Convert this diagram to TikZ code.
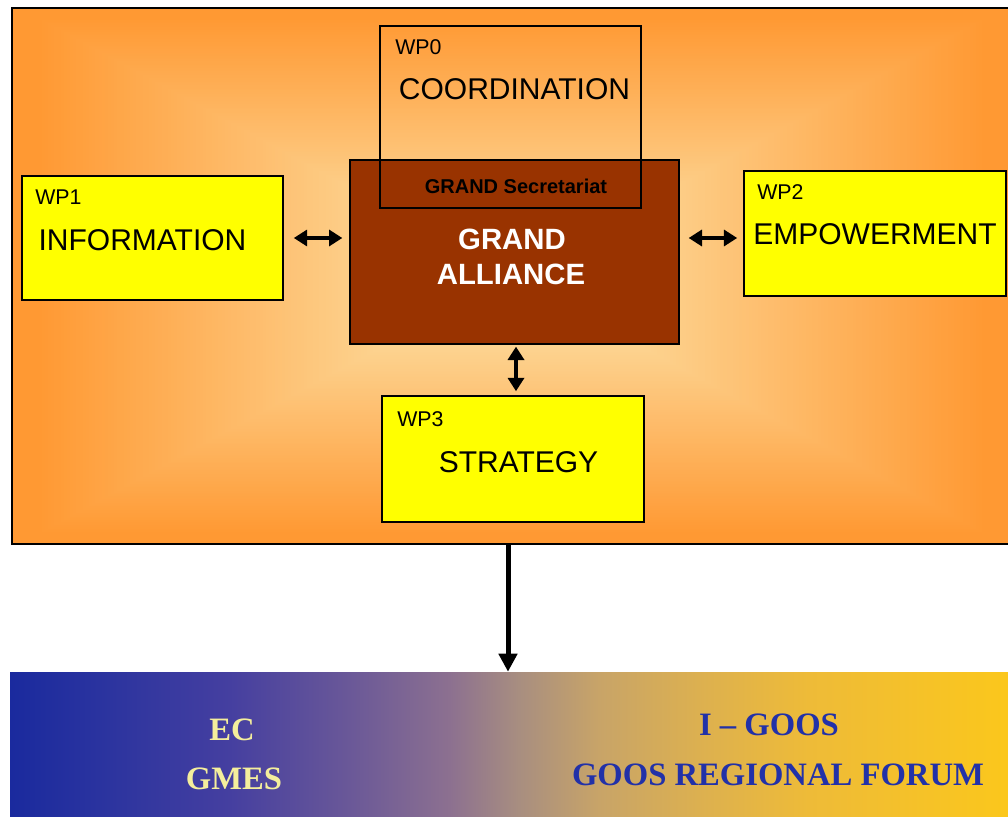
\documentclass[tikz,border=0pt]{standalone}
\usepackage{fontspec}
\setmainfont{Liberation Sans}
\newfontfamily\serifbold{Liberation Serif}
\usetikzlibrary{arrows.meta,fit}
\definecolor{orangeE}{HTML}{FF9933}
\definecolor{lightC}{HTML}{FDD390}
\definecolor{brownA}{HTML}{993300}
\definecolor{yellowB}{HTML}{FFFF00}
\definecolor{textY}{HTML}{F4EE9C}
\definecolor{textB}{HTML}{2231A8}
\definecolor{b0}{HTML}{1A2A9E}
\definecolor{b1}{HTML}{2C349F}
\definecolor{b2}{HTML}{453FA0}
\definecolor{b3}{HTML}{6A5898}
\definecolor{b4}{HTML}{8C7090}
\definecolor{b5}{HTML}{A88E80}
\definecolor{b6}{HTML}{C8A468}
\definecolor{b7}{HTML}{DCB050}
\definecolor{b8}{HTML}{EEBB38}
\definecolor{b9}{HTML}{FBC71C}
\pgfdeclarehorizontalshading{bannershade}{100bp}{color(0bp)=(b0); color(25bp)=(b0); color(30bp)=(b1); color(36bp)=(b2); color(42bp)=(b3); color(47bp)=(b4); color(50.5bp)=(b5); color(54.5bp)=(b6); color(59.5bp)=(b7); color(65bp)=(b8); color(75bp)=(b9); color(100bp)=(b9)}
\tikzset{
  wpbox/.style={draw=black, line width=1.2pt, fill=yellowB, inner sep=0pt},
  wplabel/.style={anchor=west, inner sep=0pt, font=\fontsize{16}{18}\selectfont},
  biglabel/.style={inner sep=0pt, font=\fontsize{22.5}{26}\selectfont},
  galabel/.style={inner sep=0pt, text=white, font=\bfseries\fontsize{22}{26}\selectfont},
  bottomlabel/.style={inner sep=0pt, font=\serifbold\bfseries\fontsize{24.5}{28}\selectfont},
  dblarrow/.style={line width=3pt, {Triangle[length=10pt,width=12pt]}-{Triangle[length=10pt,width=12pt]}},
  downarrow/.style={line width=3.75pt, -{Triangle[length=13.5pt,width=13.5pt]}}
}
\begin{document}
\begin{tikzpicture}[x=0.75pt,y=-0.75pt]
\useasboundingbox (0,0) rectangle (1008,817);
% background gradient of the outer frame
\begin{scope}
  \clip (12,8) rectangle (1012,544);
  \fill[orangeE] (12,8) rectangle (1012,544);
  \foreach \i in {0,...,160} {
    \pgfmathsetmacro\t{1-\i/160}
    \pgfmathsetmacro\p{min(100,max(0,(\t-0.26)/0.68*100))}
    \fill[orangeE!\p!lightC] (512-505*\t,276-275*\t) rectangle (512+505*\t,276+275*\t);
  }
\end{scope}
\node[draw=black, line width=1.5pt, inner sep=0pt, fit={(12,8) (1012,544)}] (outer) {};
% banner
\node[inner sep=0pt, shading=bannershade, fit={(10,672) (1008,817)}] (banner) {};
% boxes
\node[draw=black, line width=1pt, fill=brownA, inner sep=0pt, fit={(350,160) (679,344)}] (ga) {};
\node[draw=black, line width=1.2pt, inner sep=0pt, fit={(380,26) (641,208)}] (wp0) {};
\node[wpbox, fit={(22,176) (283,300)}] (wp1) {};
\node[wpbox, fit={(744,171) (1006,296)}] (wp2) {};
\node[wpbox, fit={(382,396) (644,522)}] (wp3) {};
% texts
\node[wplabel] (t0a) at (395,47) {WP0};
\node[biglabel] (t0b) at (514.5,89) {COORDINATION};
\node[wplabel] (t1a) at (35,197.5) {WP1};
\node[biglabel] (t1b) at (142.5,240.5) {INFORMATION};
\node[wplabel] (t2a) at (757,192) {WP2};
\node[biglabel] (t2b) at (875,234) {EMPOWERMENT};
\node[wplabel] (t3a) at (397,419) {WP3};
\node[biglabel] (t3b) at (518.5,462) {STRATEGY};
\node[inner sep=0pt, font=\bfseries\fontsize{15}{17}\selectfont] (sec) at (516,186) {GRAND Secretariat};
\node[galabel] (ga1) at (512,239) {GRAND};
\node[galabel] (ga2) at (511,274) {ALLIANCE};
\node[bottomlabel, text=textY] (ec) at (232,730) {EC};
\node[bottomlabel, text=textY] (gmes) at (234,779) {GMES};
\node[bottomlabel, text=textB] (igoos) at (769,725) {I – GOOS};
\node[bottomlabel, text=textB] (grf) at (778,775) {GOOS REGIONAL FORUM};
% connectors
\coordinate (vx) at (516,0);
\coordinate (dx) at (508,0);
\draw[dblarrow, shorten <=7.5pt, shorten >=5.25pt] (wp1.east) -- (wp1.east -| ga.west);
\draw[dblarrow, shorten <=6.75pt, shorten >=4.5pt] (ga.east |- wp1.east) -- (wp2.west |- wp1.east);
\draw[dblarrow, shorten <=1.5pt, shorten >=3pt] (ga.south -| vx) -- (wp3.north -| vx);
\draw[downarrow] (outer.south -| dx) -- (banner.north -| dx);
\end{tikzpicture}
\end{document}
